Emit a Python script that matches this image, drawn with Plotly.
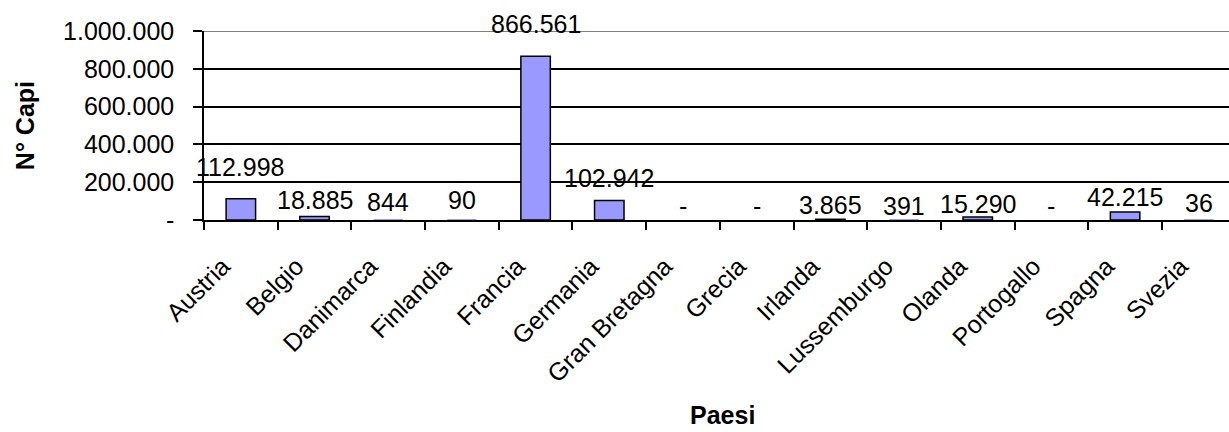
import plotly.graph_objects as go

# Numero di capi per paese
paesi = ["Austria", "Belgio", "Danimarca", "Finlandia", "Francia", "Germania",
         "Gran Bretagna", "Grecia", "Irlanda", "Lussemburgo", "Olanda",
         "Portogallo", "Spagna", "Svezia"]
capi = [112998, 18885, 844, 90, 866561, 102942, 0, 0, 3865, 391, 15290, 0, 42215, 36]

y_ticks = [0, 200000, 400000, 600000, 800000, 1000000]

# distance (px) of each value label above its bar
label_lift = [32, 16, 18, 20, 32, 23, 14, 14, 14, 14, 13, 14, 15, 17]

FONT = "Arial, Liberation Sans, sans-serif"
FS = 25
Y_MAX = 1000000
PLOT_H = 189  # px height of the plotting area


def fmt_it(v):
    """Italian thousands format, zero shown as a dash."""
    if v == 0:
        return "-"
    return f"{v:,}".replace(",", ".")


# bars thinner than half a pixel get no outline (nothing visible to draw)
outline = [1.5 if v / Y_MAX * PLOT_H >= 0.5 else 0 for v in capi]

fig = go.Figure()
fig.add_trace(go.Bar(
    x=paesi, y=capi, width=0.4,
    marker=dict(color="#9999FF", line=dict(color="black", width=outline)),
    cliponaxis=False,
))

for p, v, lift in zip(paesi, capi, label_lift):
    fig.add_annotation(x=p, y=v, text=fmt_it(v), showarrow=False,
                       yanchor="middle", xanchor="center", yshift=lift,
                       font=dict(family=FONT, size=FS, color="black"))

# axis titles
fig.add_annotation(text="<b>N° Capi</b>", xref="paper", yref="paper",
                   x=-0.175, y=0.5, textangle=-90, showarrow=False,
                   xanchor="center", yanchor="middle",
                   font=dict(family=FONT, size=FS, color="black"))
fig.add_annotation(text="<b>Paesi</b>", xref="paper", yref="paper",
                   x=0.506, y=-1.03, showarrow=False,
                   xanchor="center", yanchor="middle",
                   font=dict(family=FONT, size=FS, color="black"))

# grey frame line at the top of the plot area
fig.add_shape(type="line", xref="paper", yref="y", x0=0, x1=1,
              y0=Y_MAX, y1=Y_MAX, line=dict(color="#808080", width=2),
              layer="above")

fig.update_xaxes(
    type="category", range=[-0.5, 13.41], tickson="boundaries",
    ticks="outside", ticklen=8, tickwidth=1.5, tickcolor="black",
    showline=True, linecolor="black", linewidth=1.5,
    tickangle=-45, showgrid=False,
    ticklabelstandoff=20, ticklabelshift=-18,
    tickfont=dict(family=FONT, size=FS, color="black"),
)
fig.update_yaxes(
    range=[0, Y_MAX], tickvals=y_ticks, ticktext=[fmt_it(v) for v in y_ticks],
    ticks="outside", ticklen=9, tickwidth=1.5, tickcolor="black",
    showline=True, linecolor="black", linewidth=1.5,
    showgrid=True, gridcolor="black", gridwidth=1.5, zeroline=False,
    ticklabelstandoff=14,
    tickfont=dict(family=FONT, size=FS, color="black"),
)

fig.update_layout(
    width=1229, height=432,
    margin=dict(l=204, r=0, t=31, b=212, autoexpand=False),
    plot_bgcolor="white", paper_bgcolor="white",
    showlegend=False, bargap=0.6,
    font=dict(family=FONT, size=FS, color="black"),
)

fig.write_html("out.html")
